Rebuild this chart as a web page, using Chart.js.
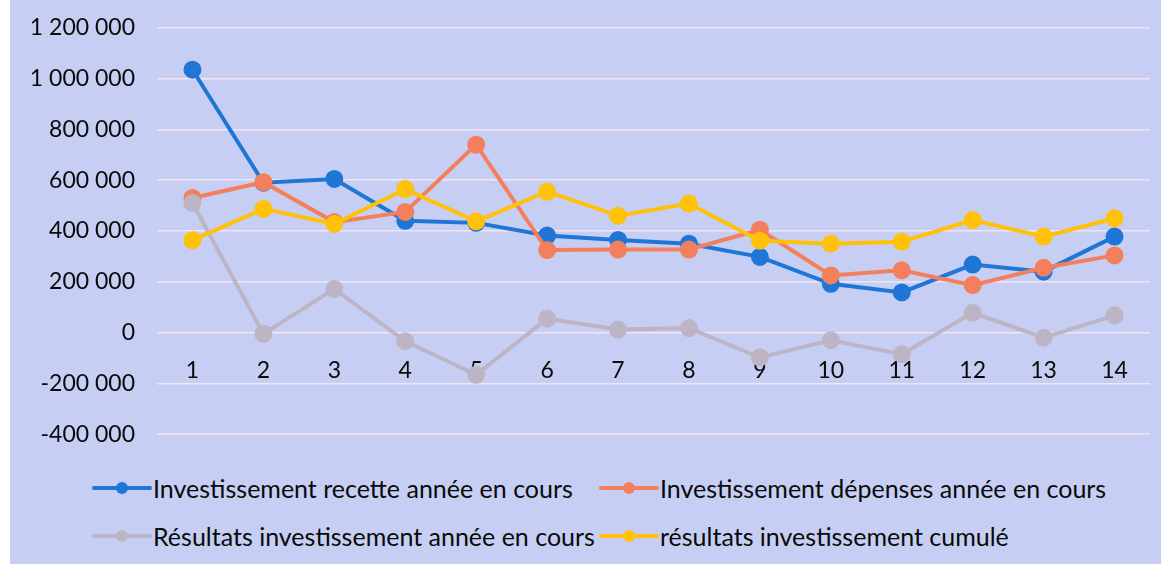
<!DOCTYPE html>
<html>
<head>
<meta charset="utf-8">
<script src="https://cdn.jsdelivr.net/npm/chart.js@4"></script>
<style>
  html, body { margin: 0; padding: 0; background: #ffffff; }
  #frame { position: absolute; left: 10px; top: 0; width: 1151px; height: 564px; background: #c6cff3; overflow: hidden; }
  #wrap { position: absolute; left: 0; top: -8px; width: 1151px; height: 478px; }
  #legend { position: absolute; left: 82px; top: 473px; width: 1060px; display: grid;
    grid-template-columns: 507px 540px; row-gap: 18px; font-family: Lato, sans-serif;
    font-size: 25px; line-height: 30px; color: #0a0a0a; }
  .item { display: flex; align-items: center; white-space: nowrap; }
  .swatch { position: relative; width: 60px; height: 20px; margin-right: 1px; }
  .swatch .ln { position: absolute; left: 0; right: 0; top: 8px; height: 4px; border-radius: 2px; }
  .swatch .dt { position: absolute; left: 24px; top: 4px; width: 12px; height: 12px; border-radius: 50%; }
</style>
</head>
<body>
<div id="frame">
  <div id="wrap"><canvas id="invChart"></canvas></div>
  <div id="legend"></div>
</div>
<script>
let years = ['1', '2', '3', '4', '5', '6', '7', '8', '9', '10', '11', '12', '13', '14'];

let recettes = [1035000, 590000, 605000, 440000, 432000, 382000, 365000, 350000, 298000, 192000, 158000, 268000, 240000, 378000];
let depenses = [530000, 592000, 435000, 475000, 740000, 325000, 327000, 327000, 405000, 225000, 245000, 187000, 255000, 304000];
let resultats = [510000, -5000, 172000, -34000, -166000, 55000, 12000, 18000, -98000, -30000, -85000, 78000, -20000, 68000];
let cumules = [364000, 487000, 428000, 565000, 438000, 555000, 460000, 508000, 362000, 350000, 358000, 443000, 378000, 450000];

let seriesNames = ['Investissement recette année en cours', 'Investissement dépenses année en cours',
  'Résultats investissement année en cours', 'résultats investissement cumulé'];
let colours = ['#1f76d6', '#f37f5d', '#bdb4c6', '#ffc10a'];

function fmt(v) {
  return String(v).replace(/\B(?=(\d{3})+(?!\d))/g, ' ');
}

function makeSet(i, values) {
  return {
    label: seriesNames[i],
    data: values,
    borderColor: colours[i],
    backgroundColor: colours[i],
    borderWidth: 4,
    pointRadius: 7,
    pointHoverRadius: 7,
    tension: 0,
    order: 4 - i,
  };
}

let ctx = document.getElementById('invChart').getContext('2d');
let invChart = new Chart(ctx, {
  type: 'line',
  data: {
    labels: years,
    datasets: [makeSet(0, recettes), makeSet(1, depenses), makeSet(2, resultats), makeSet(3, cumules)]
  },
  options: {
    responsive: true,
    maintainAspectRatio: false,
    animation: false,
    layout: {
      padding: { left: 0, right: 3, top: 4, bottom: 11 }
    },
    plugins: {
      legend: { display: false },
      tooltip: { enabled: false },
    },
    scales: {
      x: {
        position: { y: 0 },
        offset: true,
        grid: { display: false, drawTicks: false },
        border: { display: false },
        ticks: {
          padding: 24,
          color: '#0a0a0a',
          font: { family: 'Lato', size: 23 },
        },
      },
      y: {
        min: -400000,
        max: 1200000,
        afterFit: function (scale) { scale.width = 147; },
        grid: { color: 'rgba(255, 235, 245, 0.75)', lineWidth: 1.5, drawTicks: false },
        border: { display: false },
        ticks: {
          stepSize: 200000,
          padding: 22,
          color: '#0a0a0a',
          font: { family: 'Lato', size: 23 },
          callback: function (v) { return fmt(v); },
        },
      },
    },
  }
});

// legend in Excel style, two columns
let legendBox = document.getElementById('legend');
seriesNames.forEach(function (name, i) {
  let item = document.createElement('div');
  item.className = 'item';
  item.innerHTML = '<span class="swatch"><span class="ln" style="background:' + colours[i] + '"></span>' +
    '<span class="dt" style="background:' + colours[i] + '"></span></span><span>' + name + '</span>';
  legendBox.appendChild(item);
});
</script>
</body>
</html>
